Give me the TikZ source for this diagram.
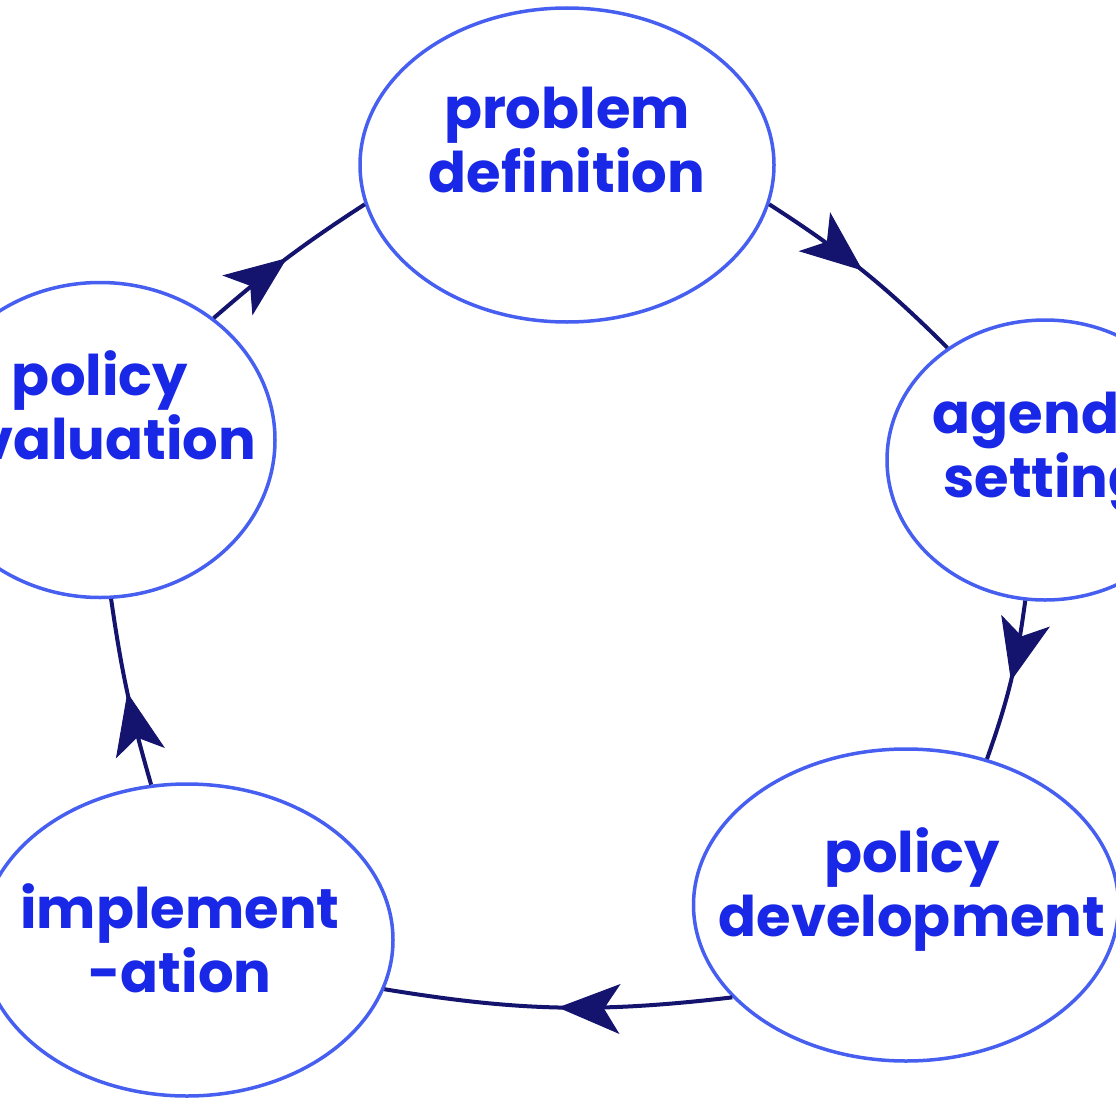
\documentclass[tikz,border=0pt]{standalone}
\usepackage{fontspec}
\setmainfont{Poppins}
\usetikzlibrary{shapes.geometric,decorations.markings,arrows.meta}
\definecolor{ebord}{RGB}{70,95,240}
\definecolor{etext}{RGB}{25,40,230}
\definecolor{navy}{RGB}{20,20,110}
\tikzset{
 stage/.style={ellipse,draw=ebord,line width=3.5pt,fill=white,inner sep=0pt},
 lbl/.style={text=etext,font=\fontsize{56}{64}\selectfont\bfseries,align=center,inner sep=0pt},
 flow/.style={draw=navy,line width=4pt,postaction={decorate},
   decoration={markings,mark=at position 0.5 with {\arrow[navy,line width=1pt]{Triangle[length=62pt,width=50pt,inset=16pt]}}}}
}
\begin{document}
\begin{tikzpicture}[x=1pt,y=-1pt]
\useasboundingbox (0,0) rectangle (1116,1116);
\clip (0,0) rectangle (1116,1116);
\node[stage,minimum width=414pt,minimum height=314pt] (pd) at (567,165) {};
\node[stage,minimum width=316pt,minimum height=280pt] (as) at (1045,460) {};
\node[stage,minimum width=425pt,minimum height=312pt] (dev) at (906,905) {};
\node[stage,minimum width=412pt,minimum height=312pt] (imp) at (187,940) {};
\node[stage,minimum width=350pt,minimum height=315pt] (ev) at (100,440) {};
\node[lbl] (tpd) at (567,140) {problem\\definition};
\node[lbl] (tas) at (1045,452) {agenda\\setting};
\node[lbl] (tdev) at (912,890) {policy\\development};
\node[lbl] (timp) at (180,938) {implement\\-ation};
\node[lbl] (tev) at (100,405) {policy\\evaluation};
\draw[flow] (pd.-11) to[bend left=6] (as.131);
\draw[flow] (as.-98) to[bend left=6] (dev.61);
\draw[flow] (dev.-152) to[bend left=8] (imp.-14);
\draw[flow] (imp.103) to[bend left=4] (ev.-86);
\draw[flow] (ev.47) to[bend left=4] (pd.-169);
\end{tikzpicture}
\end{document}
